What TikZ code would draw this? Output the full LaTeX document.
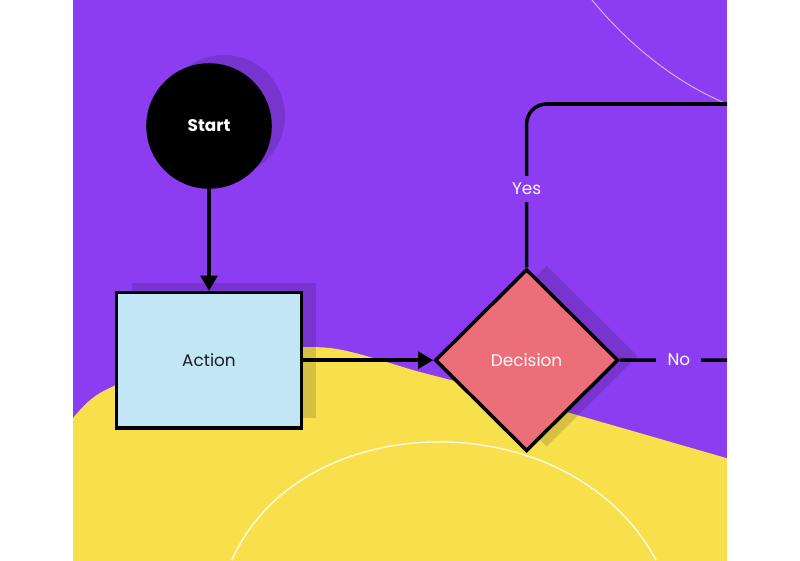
\documentclass[tikz,border=0pt]{standalone}
\usepackage{fontspec}
\setmainfont{Poppins}
\usepackage{xcolor}
\usepackage{tikz}
\usetikzlibrary{shapes.geometric, arrows.meta, positioning, shadows}

\definecolor{bgpurple}{HTML}{8C3DF2}
\definecolor{blobyellow}{HTML}{F8E04C}
\definecolor{actionblue}{HTML}{C3E6F4}
\definecolor{decisionred}{HTML}{EC6E78}
\definecolor{inkdark}{HTML}{1C1C28}

\begin{document}
\begin{tikzpicture}[
    x=0.025cm, y=-0.025cm,
    font=\fontsize{12}{14}\selectfont,
    flatshadow/.style={drop shadow={shadow xshift=0.375cm, shadow yshift=0.25cm, opacity=0.14, fill=black}},
    sideshadow/.style={drop shadow={shadow xshift=0.5cm, shadow yshift=0.1cm, opacity=0.14, fill=black}},
    startnode/.style={circle, draw=black, fill=black, line width=2.5pt, minimum size=3.05cm, inner sep=0pt, text=white, font=\fontsize{12}{14}\selectfont\bfseries, flatshadow},
    actionbox/.style={rectangle, draw=black, fill=actionblue, line width=2.5pt, minimum width=4.62cm, minimum height=3.38cm, inner sep=0pt, text=inkdark, flatshadow},
    decisionbox/.style={diamond, aspect=1, draw=black, fill=decisionred, line width=2.5pt, minimum width=4.58cm, minimum height=4.55cm, inner sep=0pt, text=white, sideshadow},
    link/.style={draw=black, line width=2.5pt},
    arr/.style={link, -{Triangle[length=0.38cm, width=0.42cm]}},
    lbl/.style={fill=bgpurple, text=white, inner xsep=0.28cm, inner ysep=0.18cm},
]

% canvas
\useasboundingbox (0,0) rectangle (800,560);
\fill[white] (0,0) rectangle (800,560);
\fill[bgpurple] (73,0) rectangle (727,560);
\begin{scope}
  \clip (73,0) rectangle (727,560);
  \fill[blobyellow] plot[smooth] coordinates {(60,440) (73,418) (100,393) (160,368) (240,352) (330,348) (420,372) (500,393) (570,413) (650,436) (740,462)}
    -- (740,570) -- (60,570) -- cycle;
  \draw[white, opacity=0.6, line width=0.7pt] (592,0) .. controls (625,40) and (670,80) .. (727,104);
  \draw[white, opacity=0.85, line width=1pt] (232,560) .. controls (300,405) and (570,400) .. (656,560);
\end{scope}

\node[startnode] (start) at (209,126) {Start};
\node[actionbox, below=2.55cm of start] (action) {Action};
\node[decisionbox, right=3.25cm of action] (decision) {Decision};
\coordinate (yesend) at (727,104);
\coordinate (noend) at (727,360);

\draw[arr] (start) -- (action);
\draw[arr] (action) -- (decision);
\draw[link, rounded corners=0.5cm] (decision.north) |- node[lbl, pos=0.24] {Yes} (yesend);
\draw[link] (decision.east) -- node[lbl, pos=0.55] {No} (noend);

\end{tikzpicture}
\end{document}
